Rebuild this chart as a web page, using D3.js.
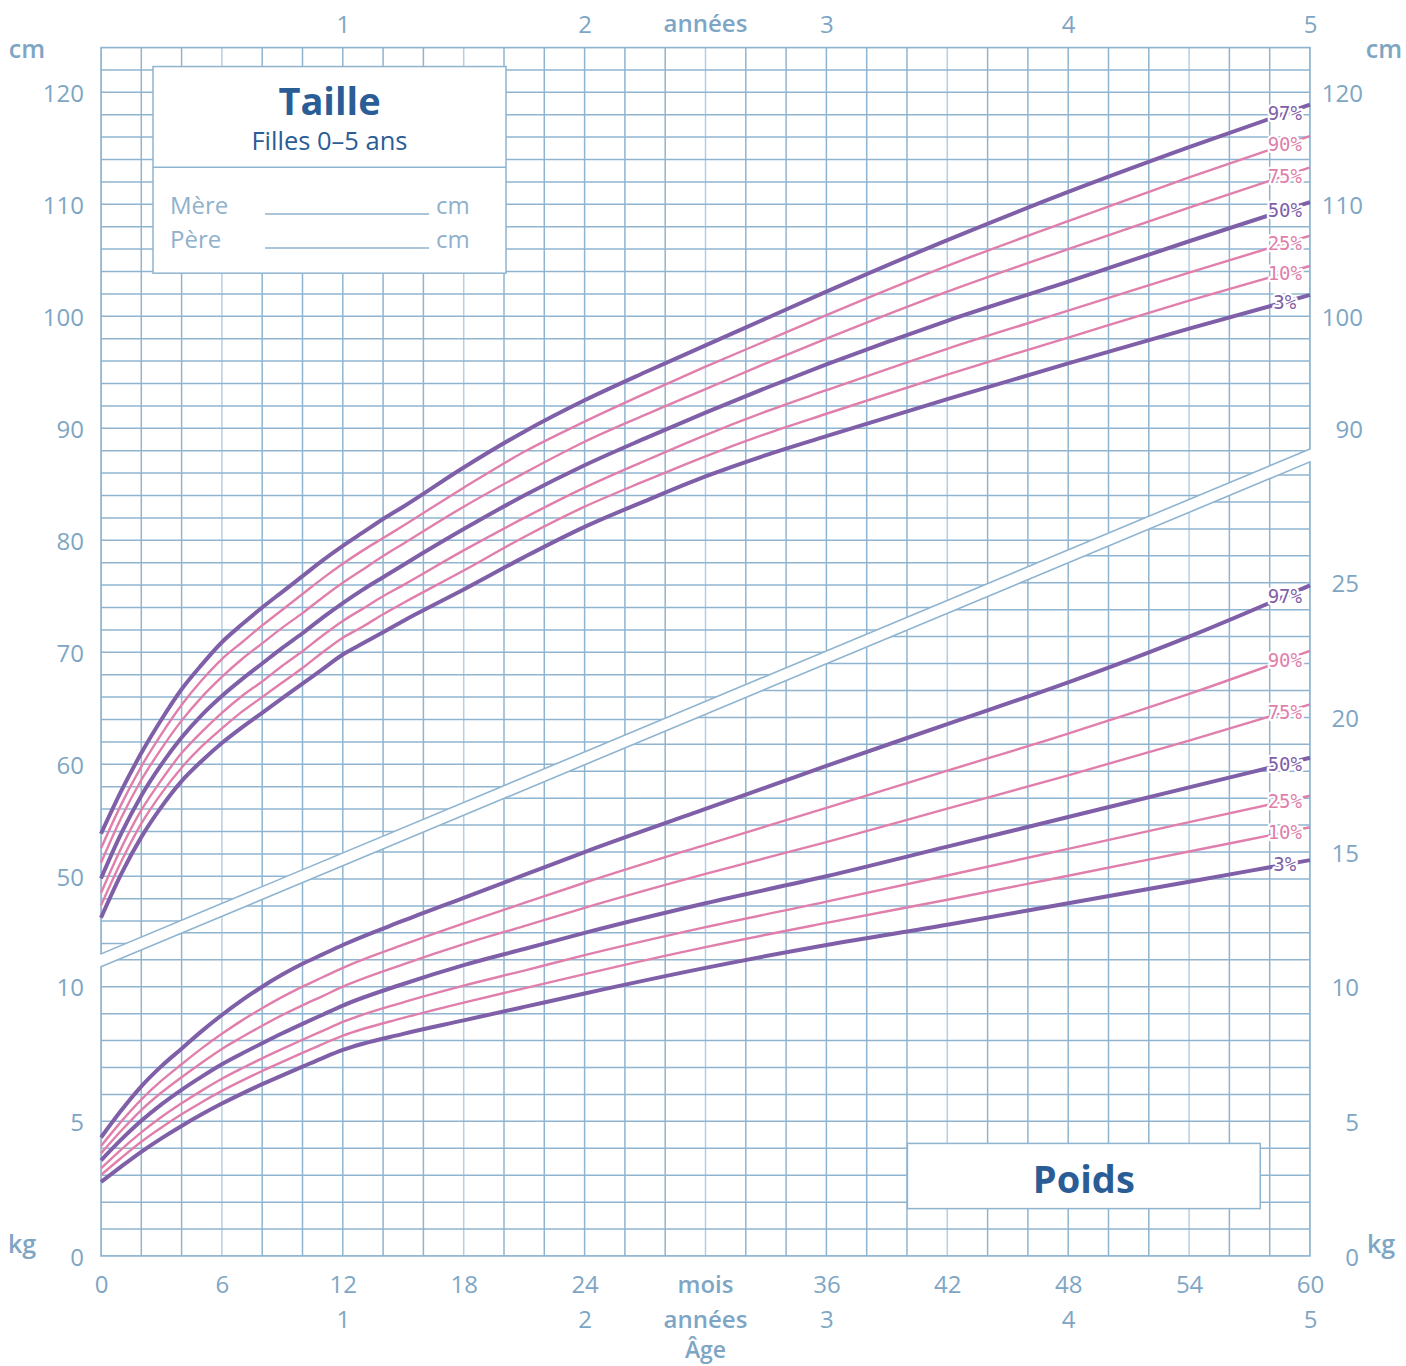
<!DOCTYPE html>
<html><head><meta charset="utf-8">
<script src="https://cdn.jsdelivr.net/npm/d3@7/dist/d3.min.js"></script>
<style>
html,body{margin:0;padding:0;background:#fff;}
svg{display:block;}
</style></head><body>
<svg id="chart" width="1406" height="1366"></svg>
<script>
// ---------- DATA ----------
const hMonths = [0,1,2,3,4,5,6,7,8,9,10,11,12,13,14,15,18,21,24,27,30,33,36,42,48,54,60];
const h3  = [46.3,50.2,53.5,56.2,58.5,60.3,61.9,63.3,64.6,65.9,67.2,68.5,69.8,70.8,71.8,72.8,75.6,78.5,81.2,83.5,85.7,87.6,89.3,92.6,95.8,98.9,101.9];
const h10 = [47.4,51.3,54.7,57.4,59.7,61.6,63.2,64.7,66.0,67.3,68.6,70.0,71.3,72.3,73.4,74.4,77.3,80.3,83.0,85.3,87.5,89.5,91.3,94.8,98.1,101.4,104.5];
const h25 = [48.5,52.5,55.9,58.6,61.0,62.9,64.6,66.1,67.4,68.8,70.1,71.5,72.8,73.9,75.0,76.0,79.1,82.0,84.7,87.1,89.4,91.5,93.4,97.1,100.5,103.9,107.2];
const h50 = [49.8,53.8,57.2,60.0,62.4,64.4,66.1,67.6,69.0,70.4,71.7,73.1,74.4,75.6,76.7,77.8,81.0,84.0,86.7,89.1,91.4,93.6,95.7,99.6,103.1,106.7,110.2];
const h75 = [51.2,55.2,58.6,61.4,63.9,66.0,67.8,69.4,70.8,72.2,73.5,74.9,76.2,77.4,78.6,79.7,83.0,86.0,88.8,91.2,93.5,95.8,98.0,102.2,106.0,109.7,113.3];
const h90 = [52.5,56.4,59.8,62.7,65.3,67.5,69.4,70.9,72.4,73.8,75.2,76.6,77.9,79.1,80.2,81.3,84.7,87.9,90.6,93.1,95.5,97.8,100.1,104.5,108.5,112.4,116.1];
const h97 = [53.8,57.6,61.0,64.0,66.7,68.9,70.9,72.5,74.0,75.4,76.8,78.2,79.5,80.7,81.9,83.0,86.5,89.7,92.5,95.0,97.4,99.8,102.2,106.8,111.1,115.1,118.9];

const wMonths = [0,1,2,3,4,5,6,7,8,9,10,11,12,15,18,21,24,30,36,42,48,54,60];
const w3  = [2.75,3.32,3.87,4.37,4.83,5.26,5.66,6.03,6.38,6.71,7.03,7.35,7.65,8.25,8.75,9.25,9.75,10.7,11.55,12.3,13.1,13.9,14.7];
const w10 = [3.01,3.64,4.24,4.77,5.26,5.71,6.13,6.51,6.87,7.21,7.54,7.87,8.18,8.84,9.41,9.94,10.47,11.47,12.37,13.23,14.12,15.02,15.92];
const w25 = [3.25,3.95,4.59,5.16,5.67,6.14,6.58,6.97,7.34,7.69,8.03,8.36,8.69,9.42,10.04,10.6,11.17,12.21,13.16,14.13,15.12,16.11,17.09];
const w50 = [3.55,4.32,5.02,5.63,6.17,6.66,7.12,7.52,7.9,8.27,8.62,8.96,9.3,10.1,10.8,11.4,12.0,13.1,14.1,15.2,16.3,17.4,18.5];
const w75 = [3.81,4.65,5.42,6.07,6.64,7.18,7.69,8.13,8.55,8.95,9.31,9.65,10.0,10.83,11.58,12.25,12.93,14.19,15.37,16.61,17.85,19.14,20.48];
const w90 = [4.08,4.99,5.81,6.51,7.12,7.71,8.25,8.75,9.2,9.62,10.0,10.35,10.7,11.56,12.35,13.11,13.86,15.27,16.64,18.02,19.4,20.87,22.47];
const w97 = [4.4,5.4,6.3,7.05,7.7,8.35,8.95,9.5,10.0,10.45,10.85,11.2,11.55,12.45,13.3,14.15,15.0,16.6,18.2,19.75,21.3,23.0,24.9];

const percentileNames = ["3%","10%","25%","50%","75%","90%","97%"];
const thickPercentiles = ["3%","50%","97%"];

const cmTicksLeft = [50,60,70,80,90,100,110,120];
const cmTicksRight = [90,100,110,120];
const kgTicksLeft = [0,5,10];
const kgTicksRight = [0,5,10,15,20,25];
const monthTicks = [0,6,12,18,24,36,42,48,54,60];
const yearTicks = [12,24,36,48,60];

const bandTopCm = [43.07, 88.16];    // upper edge of white band, at month 0 and 60 (cm scale)
const bandBottomKg = [10.74, 29.49]; // lower edge of white band, at month 0 and 60 (kg scale)

// ---------- SETUP ----------
const svg = d3.select("#chart");
const FONT = "'Open Sans', 'Noto Sans', sans-serif";
const GRID = "#8fb4d0", GRID_LIGHT = "#b5cfe2";
const TXT = "#7ea6c4", DARK = "#2a5d96";
const PURPLE = "#7f5fa8", PINK = "#e07fab";

const x = d3.scaleLinear().domain([0,60]).range([101,1310]);
const yCm = d3.scaleLinear().domain([124,40]).range([47.5, 47.5 + 84*11.2]);
const yKg = d3.scaleLinear().domain([0,10]).range([1256, 986.7]);

const defs = svg.append("defs");
const upperPoly = [[x(0),yCm(124)],[x(60),yCm(124)],[x(60),yCm(bandTopCm[1])],[x(0),yCm(bandTopCm[0])]];
const lowerPoly = [[x(0),yKg(bandBottomKg[0])],[x(60),yKg(bandBottomKg[1])],[x(60),yKg(0)],[x(0),yKg(0)]];
const polyPath = p => "M" + p.map(d=>d.join(",")).join("L") + "Z";
defs.append("clipPath").attr("id","clipU").append("path").attr("d", polyPath(upperPoly));
defs.append("clipPath").attr("id","clipL").append("path").attr("d", polyPath(lowerPoly));

// ---------- GRID ----------
const monthsGrid = d3.range(0,61,2);
const gU = svg.append("g").attr("clip-path","url(#clipU)");
gU.selectAll("line.v").data(monthsGrid).join("line")
  .attr("x1",d=>x(d)).attr("x2",d=>x(d)).attr("y1",yCm(124)).attr("y2",yCm(40))
  .attr("stroke",d=> d%12===6 ? GRID_LIGHT : GRID).attr("stroke-width",1.5);
gU.selectAll("line.h").data(d3.range(40,125,2)).join("line")
  .attr("x1",x(0)).attr("x2",x(60)).attr("y1",d=>yCm(d)).attr("y2",d=>yCm(d))
  .attr("stroke",GRID).attr("stroke-width",1.5);

const gL = svg.append("g").attr("clip-path","url(#clipL)");
gL.selectAll("line.v").data(monthsGrid).join("line")
  .attr("x1",d=>x(d)).attr("x2",d=>x(d)).attr("y1",yKg(35)).attr("y2",yKg(0))
  .attr("stroke",d=> d%12===6 ? GRID_LIGHT : GRID).attr("stroke-width",1.5);
gL.selectAll("line.h").data(d3.range(0,35,1)).join("line")
  .attr("x1",x(0)).attr("x2",x(60)).attr("y1",d=>yKg(d)).attr("y2",d=>yKg(d))
  .attr("stroke",GRID).attr("stroke-width",1.5);

svg.append("path").attr("d",polyPath(upperPoly)).attr("fill","none").attr("stroke",GRID).attr("stroke-width",1.6);
svg.append("path").attr("d",polyPath(lowerPoly)).attr("fill","none").attr("stroke",GRID).attr("stroke-width",1.6);

// ---------- BOXES ----------
const tb = svg.append("g");
tb.append("rect").attr("x",x(2.58)).attr("y",yCm(122.3))
  .attr("width",x(20.1)-x(2.58)).attr("height",yCm(103.85)-yCm(122.3))
  .attr("fill","#fff").attr("stroke",GRID).attr("stroke-width",1.5);
tb.append("line").attr("x1",x(2.58)).attr("x2",x(20.1)).attr("y1",yCm(113.3)).attr("y2",yCm(113.3))
  .attr("stroke",GRID).attr("stroke-width",1.5);
const tcx = (x(2.58)+x(20.1))/2;
tb.append("text").attr("x",tcx).attr("y",115).attr("text-anchor","middle")
  .attr("font-family",FONT).attr("font-weight",700).attr("font-size",38).attr("fill",DARK).text("Taille");
tb.append("text").attr("x",tcx).attr("y",150).attr("text-anchor","middle")
  .attr("font-family",FONT).attr("font-size",25.5).attr("fill",DARK).text("Filles 0–5 ans");
[["Mère",214],["Père",248]].forEach(([t,yy])=>{
  tb.append("text").attr("x",170).attr("y",yy).attr("font-family",FONT).attr("font-size",24).attr("fill","#8fb1cb").text(t);
  tb.append("line").attr("x1",265).attr("x2",429).attr("y1",yy).attr("y2",yy).attr("stroke","#8fb1cb").attr("stroke-width",1.3);
  tb.append("text").attr("x",436).attr("y",yy).attr("font-family",FONT).attr("font-size",24).attr("fill","#8fb1cb").text("cm");
});

const pb = svg.append("g");
pb.append("rect").attr("x",x(40.02)).attr("y",yKg(4.18))
  .attr("width",x(57.53)-x(40.02)).attr("height",yKg(1.76)-yKg(4.18))
  .attr("fill","#fff").attr("stroke",GRID).attr("stroke-width",1.5);
pb.append("text").attr("x",(x(40.02)+x(57.53))/2).attr("y",1193).attr("text-anchor","middle")
  .attr("font-family",FONT).attr("font-weight",700).attr("font-size",38).attr("fill",DARK).text("Poids");

// ---------- CURVES ----------
const hSeries = [h3,h10,h25,h50,h75,h90,h97].map((vals,i)=>({name:percentileNames[i], pts:hMonths.map((m,j)=>({m, v:vals[j]}))}));
const wSeries = [w3,w10,w25,w50,w75,w90,w97].map((vals,i)=>({name:percentileNames[i], pts:wMonths.map((m,j)=>({m, v:vals[j]}))}));
const isThick = n => thickPercentiles.includes(n);
const lineH = d3.line().x(d=>x(d.m)).y(d=>yCm(d.v)).curve(d3.curveMonotoneX);
const lineW = d3.line().x(d=>x(d.m)).y(d=>yKg(d.v)).curve(d3.curveMonotoneX);

function drawSet(series, lineGen, yScale){
  const g = svg.append("g");
  const ordered = series.filter(s=>!isThick(s.name)).concat(series.filter(s=>isThick(s.name)));
  g.selectAll("path").data(ordered).join("path")
    .attr("d",d=>lineGen(d.pts)).attr("fill","none")
    .attr("stroke",d=>isThick(d.name)?PURPLE:PINK)
    .attr("stroke-width",d=>isThick(d.name)?4:2.4)
    .attr("stroke-linejoin","round");
  const mL = 58.75;
  series.forEach(s=>{
    const p = s.pts;
    let k = p.findIndex(d=>d.m>=mL);
    const a = p[k-1], b = p[k];
    const v = a.v + (b.v-a.v)*(mL-a.m)/(b.m-a.m);
    g.append("text").attr("x",x(mL)).attr("y",yScale(v)).attr("dy","0.36em")
      .attr("text-anchor","middle").attr("font-family","'DejaVu Sans Mono', monospace")
      .attr("font-size",19).attr("fill",isThick(s.name)?PURPLE:PINK)
      .attr("stroke","#fff").attr("stroke-width",4.5).attr("paint-order","stroke")
      .attr("stroke-linejoin","round").text(s.name);
  });
}
drawSet(hSeries, lineH, yCm);
drawSet(wSeries, lineW, yKg);

// ---------- AXES ----------
function styleAxis(g, anchor){
  g.select(".domain").remove();
  g.selectAll(".tick line").remove();
  g.selectAll("text").attr("font-family",FONT).attr("font-size",24).attr("fill",TXT);
  if(anchor) g.selectAll("text").attr("text-anchor",anchor);
}
const aL1 = svg.append("g").attr("transform",`translate(${x(0)},0)`)
  .call(d3.axisLeft(yCm).tickValues(cmTicksLeft).tickSize(0).tickPadding(17));
styleAxis(aL1);
aL1.selectAll("text").attr("dy","0.38em");
const aL2 = svg.append("g").attr("transform",`translate(${x(0)},0)`)
  .call(d3.axisLeft(yKg).tickValues(kgTicksLeft).tickSize(0).tickPadding(17));
styleAxis(aL2);
aL2.selectAll("text").attr("dy","0.38em");
const aR1 = svg.append("g").attr("transform",`translate(${x(60)},0)`)
  .call(d3.axisRight(yCm).tickValues(cmTicksRight).tickSize(0).tickPadding(53));
styleAxis(aR1,"end");
aR1.selectAll("text").attr("dy","0.38em");
const aR2 = svg.append("g").attr("transform",`translate(${x(60)},0)`)
  .call(d3.axisRight(yKg).tickValues(kgTicksRight).tickSize(0).tickPadding(49));
styleAxis(aR2,"end");
aR2.selectAll("text").attr("dy","0.38em");

const aB = svg.append("g").attr("transform",`translate(0,${yKg(0)})`)
  .call(d3.axisBottom(x).tickValues(monthTicks).tickSize(0).tickPadding(20));
styleAxis(aB);
const aBY = svg.append("g").attr("transform",`translate(0,${yKg(0)})`)
  .call(d3.axisBottom(x).tickValues(yearTicks).tickFormat(d=>d/12).tickSize(0).tickPadding(55));
styleAxis(aBY);
const aT = svg.append("g").attr("transform",`translate(0,${yCm(124)})`)
  .call(d3.axisTop(x).tickValues(yearTicks).tickFormat(d=>d/12).tickSize(0).tickPadding(15));
styleAxis(aT);

function lbl(t, xx, yy, opts={}){
  svg.append("text").attr("x",xx).attr("y",yy).attr("text-anchor",opts.anchor||"middle")
    .attr("font-family",FONT).attr("font-size",opts.size||24).attr("font-weight",opts.weight||600)
    .attr("fill",TXT).text(t);
}
lbl("mois", x(30), 1293);
lbl("années", x(30), 1328);
lbl("Âge", x(30), 1358, {size:23});
lbl("années", x(30), 32);
lbl("cm", 27, 58, {size:25});
lbl("cm", 1384, 58, {size:25});
lbl("kg", 22, 1253, {size:25});
lbl("kg", 1381, 1253, {size:25});
</script>
</body></html>
